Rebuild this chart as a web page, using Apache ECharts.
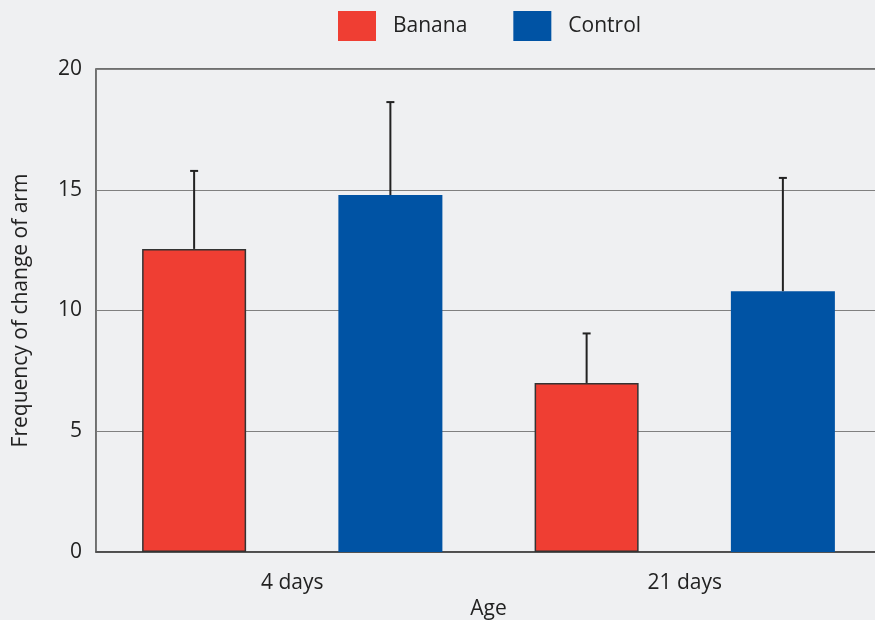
<!DOCTYPE html>
<html>
<head>
<meta charset="utf-8">
<script src="https://cdn.jsdelivr.net/npm/echarts@6/dist/echarts.min.js"></script>
<style>
  html, body { margin: 0; padding: 0; background: #eff0f2; }
  #chart { width: 875px; height: 620px; }
</style>
</head>
<body>
<div id="chart"></div>
<script>
var categories = ["4 days", "21 days"];
var bananaMean = [12.55, 7.0];
var bananaErr = [3.23, 2.05];
var controlMean = [14.78, 10.8];
var controlErr = [3.85, 4.69];
var yTicks = [0, 5, 10, 15, 20];

var FONT = "Open Sans";
var chart = echarts.init(document.getElementById("chart"));

// whisker: line from bar top up to mean + err, short cap on top
function errorSeries(means, errs, side) {
  return {
    type: "custom",
    z: 5,
    silent: true,
    data: means.map(function (m, i) { return [i, m, m + errs[i]]; }),
    renderItem: function (params, api) {
      var band = api.size([1, 0])[0];
      var base = api.coord([api.value(0), api.value(1)]);
      var top = api.coord([api.value(0), api.value(2)]);
      var x = base[0] + side * band / 4;
      var style = { stroke: "#222", lineWidth: 2 };
      return {
        type: "group",
        children: [
          { type: "line", shape: { x1: x, y1: base[1], x2: x, y2: top[1] }, style: style },
          { type: "line", shape: { x1: x - 4, y1: top[1], x2: x + 4, y2: top[1] }, style: style }
        ]
      };
    }
  };
}

var option = {
  backgroundColor: "#eff0f2",
  animation: false,
  textStyle: { fontFamily: FONT },
  legend: {
    top: 6,
    left: 333,
    itemWidth: 38,
    itemHeight: 30,
    itemGap: 46,
    icon: "rect",
    itemStyle: { borderWidth: 0 },
    textStyle: { fontSize: 21, color: "#222", fontFamily: FONT, padding: [0, 0, 0, 12] },
    data: ["Banana", "Control"]
  },
  grid: {
    left: 96,
    top: 69,
    bottom: 68,
    right: -6,
    outerBoundsMode: "none",
    containLabel: false,
    show: true,
    borderColor: "#444",
    borderWidth: 1.5
  },
  xAxis: {
    type: "category",
    data: categories,
    name: "Age",
    nameLocation: "middle",
    nameGap: 44,
    nameTextStyle: { fontSize: 21, color: "#222", fontFamily: FONT },
    axisTick: { show: false },
    axisLine: { lineStyle: { color: "#444", width: 1.5 } },
    axisLabel: { fontSize: 21, color: "#222", margin: 21, fontFamily: FONT }
  },
  yAxis: {
    type: "value",
    min: yTicks[0],
    max: yTicks[yTicks.length - 1],
    interval: 5,
    name: "Frequency of change of arm",
    nameLocation: "middle",
    nameGap: 64,
    nameTextStyle: { fontSize: 21, color: "#222", fontFamily: FONT },
    axisLine: { show: true, lineStyle: { color: "#777" } },
    axisTick: { show: false },
    splitLine: { lineStyle: { color: "#808080", width: 1 } },
    axisLabel: { fontSize: 21, color: "#222", margin: 14, fontFamily: FONT }
  },
  series: [
    {
      name: "Banana",
      type: "bar",
      data: bananaMean,
      barWidth: "26.5%",
      barGap: "88.7%",
      itemStyle: { color: "#ef3e33", borderColor: "#333", borderWidth: 1.5 }
    },
    {
      name: "Control",
      type: "bar",
      data: controlMean,
      barWidth: "26.5%",
      itemStyle: { color: "#0053a4", borderWidth: 0 }
    },
    errorSeries(bananaMean, bananaErr, -1),
    errorSeries(controlMean, controlErr, 1)
  ]
};
chart.setOption(option);
</script>
</body>
</html>
